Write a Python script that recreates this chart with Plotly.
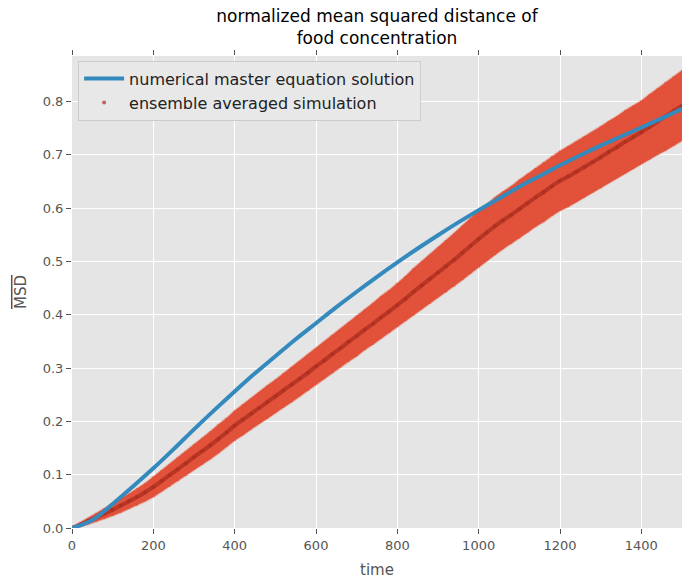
import plotly.graph_objects as go

# time grid for the simulation ensemble (read every 20 time units)
sim_time = list(range(0, 1501, 20))
sim_mean = [0.000, 0.006, 0.013, 0.020, 0.027, 0.034, 0.042, 0.050, 0.058, 0.067,
            0.077, 0.088, 0.099, 0.110, 0.121, 0.133, 0.144, 0.155, 0.167, 0.179,
            0.192, 0.203, 0.214, 0.225, 0.236, 0.247, 0.258, 0.269, 0.280, 0.291,
            0.303, 0.314, 0.326, 0.337, 0.349, 0.360, 0.372, 0.383, 0.395, 0.406,
            0.418, 0.430, 0.443, 0.455, 0.467, 0.479, 0.491, 0.503, 0.516, 0.529,
            0.542, 0.554, 0.566, 0.577, 0.587, 0.598, 0.609, 0.620, 0.630, 0.641,
            0.651, 0.659, 0.668, 0.677, 0.686, 0.695, 0.705, 0.714, 0.724, 0.733,
            0.742, 0.752, 0.762, 0.772, 0.782, 0.792]
sim_err = [0.002, 0.004, 0.006, 0.008, 0.010, 0.011, 0.013, 0.014, 0.016, 0.017,
           0.019, 0.020, 0.021, 0.022, 0.023, 0.024, 0.025, 0.026, 0.027, 0.027,
           0.028, 0.029, 0.029, 0.030, 0.031, 0.031, 0.032, 0.033, 0.033, 0.034,
           0.034, 0.035, 0.036, 0.036, 0.037, 0.038, 0.038, 0.039, 0.040, 0.040,
           0.041, 0.042, 0.044, 0.045, 0.046, 0.047, 0.049, 0.050, 0.051, 0.052,
           0.053, 0.053, 0.054, 0.054, 0.054, 0.055, 0.055, 0.055, 0.056, 0.056,
           0.056, 0.057, 0.057, 0.057, 0.057, 0.058, 0.058, 0.058, 0.059, 0.059,
           0.059, 0.061, 0.062, 0.064, 0.065, 0.066]

# numerical master equation solution (read every 50 time units)
me_time = list(range(0, 1501, 50))
me_msd = [0.000, 0.015, 0.045, 0.078, 0.112, 0.148, 0.185, 0.221, 0.256, 0.290,
          0.322, 0.354, 0.384, 0.414, 0.443, 0.471, 0.498, 0.524, 0.549, 0.573,
          0.596, 0.618, 0.640, 0.660, 0.680, 0.699, 0.717, 0.734, 0.751, 0.768,
          0.786]

x_ticks = list(range(0, 1501, 200))
y_ticks = [i / 10 for i in range(0, 9)]

RED = "#E2513A"
upper = [m + e for m, e in zip(sim_mean, sim_err)]
lower = [m - e for m, e in zip(sim_mean, sim_err)]

fig = go.Figure()

# band formed by the dense error bars
fig.add_trace(go.Scatter(
    x=sim_time, y=lower, mode="lines", showlegend=False, hoverinfo="skip",
    line=dict(color="rgba(226,81,58,0.35)", width=2),
))
fig.add_trace(go.Scatter(
    x=sim_time, y=upper, mode="lines", showlegend=False, hoverinfo="skip",
    fill="tonexty", fillcolor=RED,
    line=dict(color="rgba(226,81,58,0.35)", width=2),
))
# the error bars themselves
fig.add_trace(go.Scatter(
    x=sim_time, y=sim_mean, mode="markers",
    name="ensemble averaged simulation", legendrank=2,
    marker=dict(color="rgba(175,45,30,0.7)", size=4),
    error_y=dict(type="data", array=sim_err, visible=True,
                 color=RED, thickness=2, width=0),
))
fig.add_trace(go.Scatter(
    x=sim_time, y=sim_mean, mode="lines", showlegend=False,
    line=dict(color="rgba(170,45,30,0.75)", width=4, shape="spline"),
    hoverinfo="skip",
))
fig.add_trace(go.Scatter(
    x=me_time, y=me_msd, mode="lines", legendrank=1,
    name="numerical master equation solution",
    line=dict(color="#348ABD", width=4, shape="spline"),
))

axis_common = dict(
    showgrid=True, gridcolor="white", gridwidth=1,
    zeroline=False, showline=False,
    ticks="outside", ticklen=5, tickwidth=1, tickcolor="#555555",
    mirror="ticks",
    tickfont=dict(family="DejaVu Sans", size=13, color="#555555"),
)

fig.update_layout(
    width=682, height=581,
    margin=dict(l=72, r=0, t=56, b=53),
    paper_bgcolor="white", plot_bgcolor="#E5E5E5",
    title=dict(
        text="normalized mean squared distance of<br>food concentration",
        x=0.5, xref="paper", xanchor="center",
        y=0.962, yref="container", yanchor="top",
        font=dict(family="DejaVu Sans", size=17, color="black"),
    ),
    legend=dict(
        x=0.01, y=0.99, xanchor="left", yanchor="top",
        bgcolor="#E8E8E8", bordercolor="#CCCCCC", borderwidth=1,
        font=dict(family="DejaVu Sans", size=16, color="#222222"),
        traceorder="normal",
        itemwidth=40,
    ),
    xaxis=dict(range=[0, 1500], tickvals=x_ticks,
               title=dict(text="time", standoff=12,
                          font=dict(family="DejaVu Sans", size=15, color="#555555")),
               **axis_common),
    yaxis=dict(range=[0, 0.885], tickvals=y_ticks, tickformat=".1f",
               title=dict(text="<span style='text-decoration:overline'>MSD</span>",
                          standoff=12,
                          font=dict(family="DejaVu Sans", size=15, color="#555555")),
               **axis_common),
)

fig.write_html("out.html")
